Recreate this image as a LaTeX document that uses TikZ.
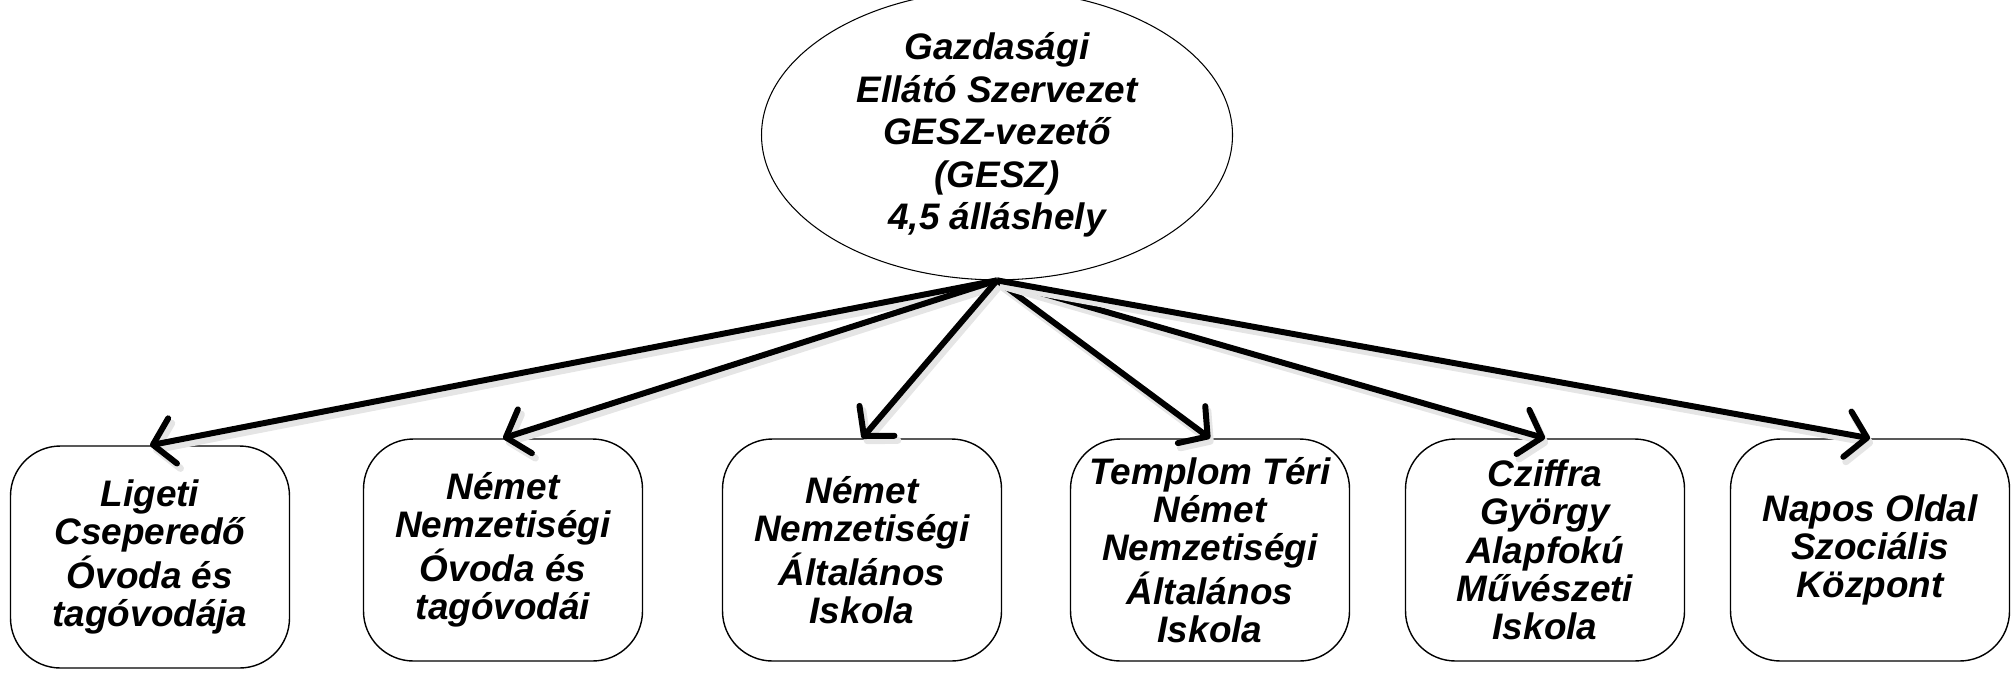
\documentclass[tikz,border=0pt]{standalone}
\usepackage{fontspec}
\setmainfont{Liberation Sans}
\usetikzlibrary{arrows.meta,shapes,calc,positioning}

\begin{document}
\begin{tikzpicture}[x=0.1mm, y=-0.1mm]
		\tikzstyle{every node}=[font=\fontsize{10.5}{10.9}\selectfont\bfseries\itshape]
		\tikzstyle{unit}=[draw, line width=0.4pt, rounded corners=5mm, minimum width=27.9mm, minimum height=22.2mm, align=center, inner sep=0pt]
		\tikzstyle{link}=[line width=1.7pt, -{Straight Barb[round, length=2mm, width=4.6mm]},
			preaction={draw=black!10, line width=2pt, transform canvas={shift={(0.3mm,-0.5mm)}}}]
		\useasboundingbox (0,0) rectangle (2014,672);
		\node [draw, ellipse, line width=0.3pt, minimum width=47.1mm, minimum height=26.4mm, align=center, inner sep=0pt, font=\fontsize{10.5}{12.1}\selectfont\bfseries\itshape] (gesz) at (997,135) {Gazdasági\\Ellátó Szervezet\\GESZ-vezető\\(GESZ)\\4,5 álláshely};
		\node [unit] (liget) at (150,557) {Ligeti\\Cseperedő\\Óvoda és\\tagóvodája};
		\node [unit] (ovoda) at (503,550) {Német\\Nemzetiségi\\Óvoda és\\tagóvodái};
		\node [unit] (iskola) at (862,550) {Német\\Nemzetiségi\\Általános\\Iskola};
		\node [unit] (templom) at (1210,550) {Templom Téri\\Német\\Nemzetiségi\\Általános\\Iskola};
		\node [unit] (cziffra) at (1545,550) {Cziffra\\György\\Alapfokú\\Művészeti\\Iskola};
		\node [unit] (napos) at (1870,550) {Napos Oldal\\Szociális\\Központ};
		\draw [link] (gesz.south) -- (liget.north);
		\draw [link] (gesz.south) -- (ovoda.north);
		\draw [link] (gesz.south) -- (iskola.north);
		\draw [link] (gesz.south) -- (templom.north);
		\draw [link] (gesz.south) -- (cziffra.north);
		\draw [link] (gesz.south) -- (napos.north);
		\end{tikzpicture}
\end{document}
